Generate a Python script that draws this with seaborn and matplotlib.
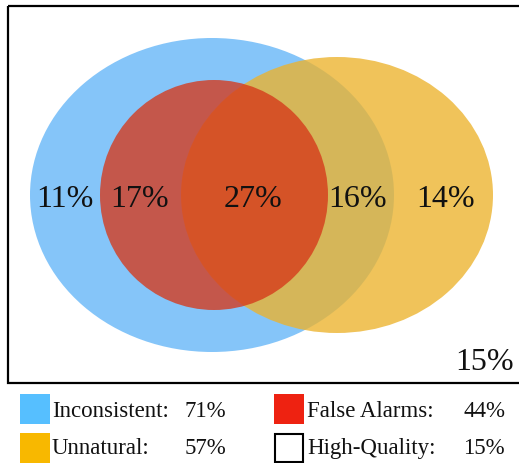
import matplotlib
matplotlib.use("Agg")
import matplotlib.pyplot as plt
from matplotlib.patches import Ellipse, Rectangle
import seaborn as sns

# ---- data ----
set_names = ["Inconsistent", "False Alarms", "Unnatural", "High-Quality"]
set_values = [71, 44, 57, 15]
legend_colors = ["#56BFFF", "#EE2211", "#F8B800", "#FFFFFF"]
region_values = [11, 17, 27, 16, 14, 15]

sns.set_theme(style="white")
plt.rcParams["font.family"] = ["Liberation Serif", "DejaVu Serif"]

W, H = 519, 463
fig = plt.figure(figsize=(W / 100, H / 100), dpi=100)
ax = fig.add_axes([0, 0, 1, 1])
ax.set_xlim(0, W)
ax.set_ylim(H, 0)
ax.axis("off")

# frame
ax.add_patch(Rectangle((8, 6), 516, 377, fill=False, edgecolor="black", lw=1.6, zorder=10))

# ellipses
ax.add_patch(Ellipse((212, 195), 364, 314, facecolor=(133/255, 197/255, 249/255), edgecolor="none", zorder=1))
ax.add_patch(Ellipse((337, 195), 312, 276, facecolor=(236/255, 179/255, 46/255), alpha=0.79, edgecolor="none", zorder=2))
ax.add_patch(Ellipse((214, 195), 228, 230, facecolor=(214/255, 56/255, 26/255), alpha=0.78, edgecolor="none", zorder=3))

# region labels
region_pos = [(65, 196), (140, 196), (253, 196), (358, 196), (446, 196), (485, 359)]
for (x, y), v in zip(region_pos, region_values):
    ax.text(x, y, f"{v}%", fontsize=23, ha="center", va="center_baseline", color="#111111", zorder=5)

# legend
sq_pos = [(20, 394), (274, 394), (20, 433), (274, 433)]
name_x = [52, 307, 52, 307]
val_x = [185, 463, 185, 463]
for i, (name, val, col) in enumerate(zip(set_names, set_values, legend_colors)):
    sx, sy = sq_pos[i]
    if col == "#FFFFFF":
        ax.add_patch(Rectangle((sx + 1, sy + 1), 28, 28, facecolor="white", edgecolor="black", lw=1.5))
    else:
        ax.add_patch(Rectangle((sx, sy), 30, 30, facecolor=col, edgecolor="none"))
    ty = sy + 15 if i < 2 else sy + 13
    ax.text(name_x[i], ty, f"{name}:", fontsize=16.5, ha="left", va="center_baseline", color="#111111")
    ax.text(val_x[i], ty, f"{val}%", fontsize=16.5, ha="left", va="center_baseline", color="#111111")

fig.savefig("out.png", dpi=100)
